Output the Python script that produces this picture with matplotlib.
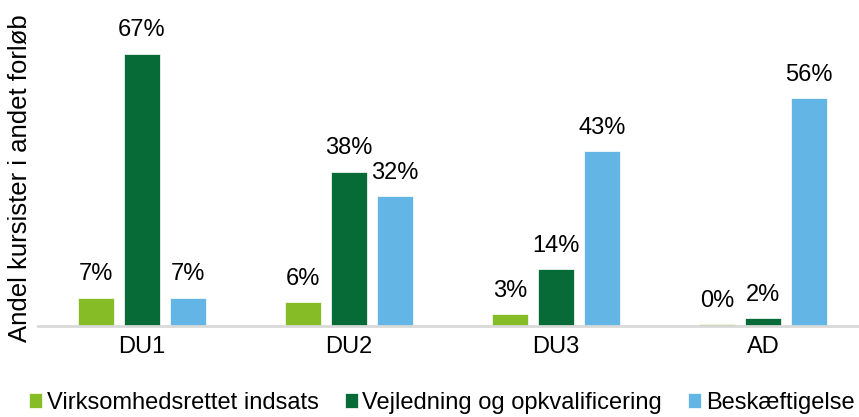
import matplotlib
matplotlib.use("Agg")
from matplotlib import pyplot as plt
import numpy as np

plt.rcParams['font.family'] = ['Liberation Sans', 'DejaVu Sans']

categories = ["DU1", "DU2", "DU3", "AD"]
series_names = ["Virksomhedsrettet indsats", "Vejledning og opkvalificering", "Beskæftigelse"]
virksomhed = [7, 6, 3, 0.4]
vejledning = [67, 38, 14, 2]
beskaeft = [7, 32, 43, 56]
labels_v = ["7%", "6%", "3%", "0%"]
labels_j = ["67%", "38%", "14%", "2%"]
labels_b = ["7%", "32%", "43%", "56%"]

colors = ["#86bc25", "#076b38", "#62b5e5"]

fig = plt.figure(figsize=(8.59, 4.17), dpi=100)
ax = fig.add_axes([0.0448, 0.218, 0.964, 0.78])

x = np.arange(len(categories))
w = 0.174
off = 0.222
series = [virksomhed, vejledning, beskaeft]
labs = [labels_v, labels_j, labels_b]
for i, (vals, lab) in enumerate(zip(series, labs)):
    pos = x + (i - 1) * off
    ax.bar(pos, vals, w, color=colors[i], label=series_names[i], edgecolor="white", linewidth=0.5)
    for p, v, t in zip(pos, vals, lab):
        ax.text(p, v + 3.0, t, ha="center", va="bottom", fontsize=17)

ax.set_xlim(-0.5, 3.5)
ax.set_ylim(0, 80)
ax.set_xticks(x)
ax.set_xticklabels(categories, fontsize=17)
ax.tick_params(axis="x", length=0, pad=7)
ax.set_yticks([])
for s in ["top", "right", "left"]:
    ax.spines[s].set_visible(False)
ax.spines["bottom"].set_color("#d9d9d9")
ax.spines["bottom"].set_linewidth(2)
ax.set_ylabel("Andel kursister i andet forløb", fontsize=18.5)
ax.yaxis.set_label_coords(-0.008, 0.455)

ax.legend(loc="lower center", bbox_to_anchor=(0.487, -0.335), ncol=3, frameon=False,
          fontsize=17, handlelength=0.55, handleheight=0.55, handletextpad=0.2, columnspacing=1.1)

fig.savefig("out.png", dpi=100)
